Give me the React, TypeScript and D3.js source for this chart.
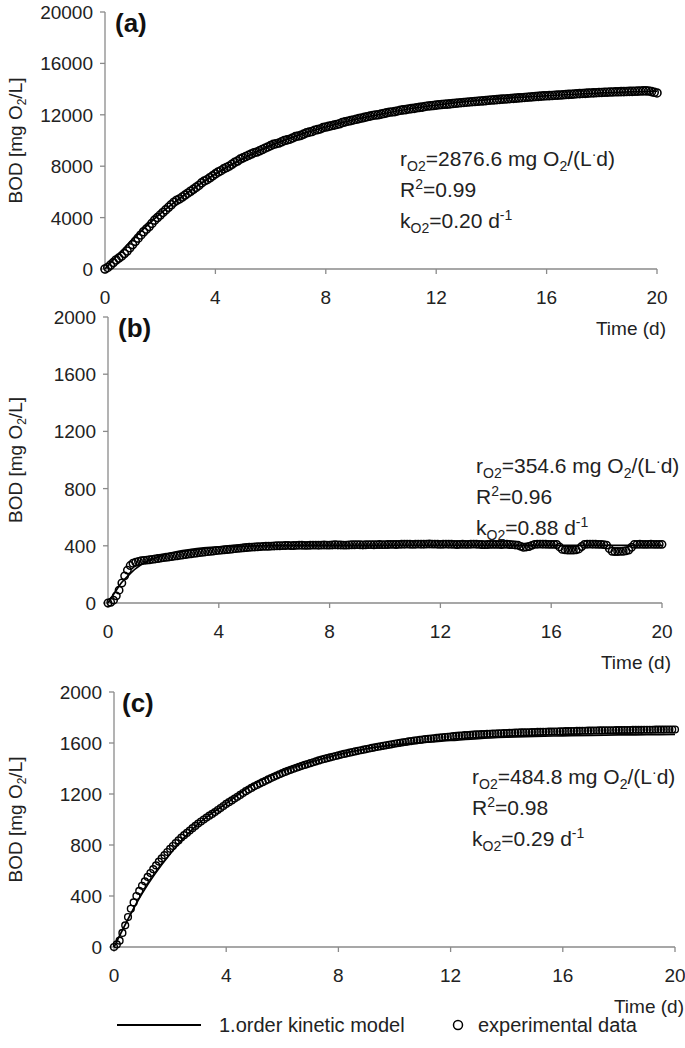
import React from "react";
import * as d3 from "d3";

// readings at t = 0, 0.2, ..., 20 d
const timeGrid: number[] = d3.range(0, 101).map((i) => +(i * 0.2).toFixed(1));
// readings at t = 0.1, 0.3, ..., 19.9 d
const timeGridMid: number[] = d3.range(0, 100).map((i) => +(i * 0.2 + 0.1).toFixed(1));

const bodA: number[] = [
  0, 300, 700, 1000, 1400, 1900, 2400, 2900, 3300, 3800,
  4200, 4600, 5000, 5350, 5600, 5900, 6200, 6500, 6850, 7100,
  7400, 7650, 7900, 8150, 8400, 8650, 8850, 9050, 9200, 9400,
  9600, 9750, 9900, 10050, 10200, 10350, 10500, 10650, 10800, 10900,
  11050, 11150, 11250, 11400, 11500, 11600, 11700, 11800, 11900, 11980,
  12050, 12150, 12220, 12300, 12380, 12450, 12500, 12580, 12650, 12700,
  12750, 12800, 12830, 12880, 12920, 12960, 13000, 13030, 13070, 13100,
  13150, 13180, 13220, 13250, 13280, 13320, 13350, 13380, 13420, 13450,
  13480, 13500, 13530, 13560, 13590, 13620, 13650, 13670, 13700, 13720,
  13740, 13760, 13780, 13790, 13800, 13820, 13830, 13850, 13860, 13800,
  13700,
];
const bodAMid: number[] = [
  120, 500, 850, 1200, 1650, 2150, 2650, 3100, 3550, 4000,
  4400, 4800, 5200, 5450, 5750, 6050, 6350, 6700, 6950, 7250,
  7550, 7800, 8000, 8300, 8550, 8750, 8950, 9100, 9300, 9500,
  9700, 9800, 10000, 10100, 10300, 10400, 10600, 10700, 10850, 11000,
  11100, 11200, 11300, 11450, 11550, 11650, 11750, 11850, 11950, 12000,
  12100, 12200, 12250, 12350, 12400, 12480, 12550, 12600, 12680, 12720,
  12780, 12820, 12850, 12900, 12940, 12980, 13020, 13050, 13080, 13130,
  13160, 13200, 13230, 13270, 13300, 13330, 13370, 13400, 13430, 13470,
  13490, 13520, 13540, 13580, 13600, 13640, 13660, 13690, 13710, 13730,
  13750, 13770, 13790, 13800, 13810, 13820, 13840, 13860, 13850, 13750,
];

const bodB: number[] = [
  0, 20, 90, 190, 262, 285, 295, 300, 305, 311,
  317, 322, 328, 333, 339, 344, 349, 354, 359, 363,
  368, 372, 376, 380, 384, 388, 391, 393, 396, 397,
  399, 400, 402, 401, 403, 404, 403, 405, 404, 406,
  405, 407, 406, 405, 407, 408, 406, 408, 407, 409,
  408, 410, 409, 411, 412, 410, 412, 411, 413, 412,
  410, 412, 411, 409, 411, 410, 412, 410, 408, 410,
  410, 409, 411, 408, 404, 390, 395, 410, 412, 411,
  410, 409, 375, 370, 370, 378, 410, 412, 411, 410,
  405, 362, 360, 362, 370, 410, 411, 410, 411, 410,
  410,
];
const bodBMid: number[] = [
  5, 50, 140, 230, 278, 290, 298, 302, 308, 314,
  320, 325, 330, 336, 342, 347, 352, 357, 361, 366,
  370, 374, 378, 382, 386, 390, 392, 394, 397, 398,
  400, 401, 403, 402, 404, 403, 404, 405, 405, 405,
  406, 406, 405, 406, 407, 407, 407, 408, 408, 408,
  409, 410, 410, 411, 411, 411, 411, 412, 412, 411,
  411, 411, 410, 410, 410, 411, 411, 409, 409, 410,
  410, 410, 409, 406, 396, 392, 403, 411, 411, 410,
  410, 392, 372, 370, 372, 395, 411, 411, 410, 408,
  380, 360, 361, 365, 390, 410, 410, 410, 410, 410,
];

const bodC: number[] = [
  0, 50, 170, 300, 400, 480, 550, 610, 670, 720,
  770, 815, 858, 895, 932, 968, 1000, 1030, 1058, 1090,
  1122, 1150, 1178, 1208, 1235, 1260, 1282, 1303, 1325, 1345,
  1364, 1382, 1398, 1413, 1428, 1442, 1456, 1469, 1481, 1492,
  1503, 1514, 1524, 1534, 1543, 1552, 1561, 1570, 1578, 1586,
  1594, 1601, 1608, 1615, 1621, 1627, 1632, 1637, 1642, 1647,
  1651, 1656, 1659, 1662, 1665, 1668, 1670, 1672, 1674, 1676,
  1678, 1680, 1682, 1683, 1684, 1686, 1687, 1688, 1689, 1690,
  1692, 1693, 1694, 1695, 1696, 1697, 1698, 1699, 1700, 1700,
  1701, 1702, 1702, 1703, 1703, 1704, 1704, 1705, 1705, 1706,
  1706,
];
const bodCMid: number[] = [
  20, 110, 235, 350, 440, 515, 580, 640, 695, 745,
  792, 836, 877, 913, 950, 984, 1015, 1044, 1074, 1106,
  1136, 1164, 1193, 1222, 1248, 1271, 1293, 1314, 1335, 1355,
  1373, 1390, 1406, 1421, 1435, 1449, 1463, 1475, 1487, 1498,
  1509, 1519, 1529, 1539, 1548, 1557, 1566, 1574, 1582, 1590,
  1598, 1605, 1612, 1618, 1624, 1630, 1635, 1640, 1645, 1649,
  1654, 1658, 1661, 1664, 1667, 1669, 1671, 1673, 1675, 1677,
  1679, 1681, 1683, 1684, 1685, 1687, 1688, 1689, 1690, 1691,
  1693, 1694, 1695, 1696, 1697, 1698, 1699, 1700, 1700, 1701,
  1702, 1702, 1703, 1703, 1704, 1704, 1705, 1705, 1706, 1706,
];

// model curves
const modelTA: number[] = [0, 1, 2, 3, 4, 5, 6, 7, 8, 9, 10, 11, 12, 13, 14, 15, 16, 17, 18, 19, 20];
const modelA: number[] = [0, 2300, 4300, 5950, 7400, 8600, 9600, 10400, 11050, 11600, 12050, 12450, 12750, 13000, 13200, 13350, 13480, 13600, 13700, 13780, 13850];

const modelTB: number[] = [0, 0.25, 0.5, 0.75, 1, 1.5, 2, 2.5, 3, 4, 5, 6, 8, 12, 16, 20];
const modelB: number[] = [0, 75, 145, 195, 240, 300, 335, 360, 375, 392, 398, 401, 403, 403, 403, 403];

const modelTC: number[] = [0, 1, 2, 3, 4, 5, 6, 7, 8, 9, 10, 11, 12, 13, 14, 15, 16, 17, 18, 19, 20];
const modelC: number[] = [0, 420, 730, 965, 1125, 1280, 1380, 1450, 1510, 1555, 1585, 1605, 1620, 1635, 1645, 1652, 1656, 1660, 1663, 1665, 1667];

const xTicks: number[] = [0, 4, 8, 12, 16, 20];
const yTicksA: number[] = [0, 4000, 8000, 12000, 16000, 20000];
const yTicksBC: number[] = [0, 400, 800, 1200, 1600, 2000];

const annA = { r: "2876.6", R2: "0.99", k: "0.20" };
const annB = { r: "354.6", R2: "0.96", k: "0.88" };
const annC = { r: "484.8", R2: "0.98", k: "0.29" };

const FONT = "Liberation Sans, Arial, sans-serif";

type PanelProps = {
  label: string;
  x0: number; x1: number; yTop: number; yBot: number;
  yMax: number; yTicks: number[];
  data: number[]; dataMid: number[]; mT: number[]; mV: number[];
  ann: { r: string; R2: string; k: string };
  annX: number; annY: number; r: number; sw: number;
  labelX: number;
};

function Panel(p: PanelProps) {
  const x = d3.scaleLinear().domain([0, 20]).range([p.x0, p.x1]);
  const y = d3.scaleLinear().domain([0, p.yMax]).range([p.yBot, p.yTop]);
  const line = d3
    .line<number>()
    .x((_, i) => x(p.mT[i]))
    .y((v) => y(v))
    .curve(d3.curveMonotoneX);
  const axisColor = "#8a8a8a";
  const midY = (p.yTop + p.yBot) / 2;
  const pts: [number, number][] = [
    ...p.data.map((v, i) => [timeGrid[i], v] as [number, number]),
    ...p.dataMid.map((v, i) => [timeGridMid[i], v] as [number, number]),
  ];
  return (
    <g fontFamily={FONT}>
      <line x1={p.x0} x2={p.x0} y1={p.yTop} y2={p.yBot} stroke={axisColor} strokeWidth={1.3} />
      <line x1={p.x0} x2={p.x1} y1={p.yBot} y2={p.yBot} stroke={axisColor} strokeWidth={1.3} />
      {p.yTicks.map((t) => (
        <g key={"y" + t}>
          <line x1={p.x0 - 5} x2={p.x0} y1={y(t)} y2={y(t)} stroke={axisColor} strokeWidth={1.3} />
          <text x={p.x0 - 12} y={y(t) + 7} textAnchor="end" fontSize={19} fill="#222">{t}</text>
        </g>
      ))}
      {xTicks.map((t) => (
        <g key={"x" + t}>
          <line x1={x(t)} x2={x(t)} y1={p.yBot} y2={p.yBot + 5} stroke={axisColor} strokeWidth={1.3} />
          <text x={x(t)} y={p.yBot + 35} textAnchor="middle" fontSize={19} fill="#222">{t}</text>
        </g>
      ))}
      <text x={p.x1 + 9} y={p.yBot + 66} textAnchor="end" fontSize={19} fill="#222">Time (d)</text>
      <text transform={`translate(22,${midY}) rotate(-90)`} textAnchor="middle" fontSize={19} fill="#222">
        BOD [mg O<tspan fontSize={12} dy={4}>2</tspan><tspan dy={-4}>/L]</tspan>
      </text>
      <text x={p.labelX} y={p.yTop + 20} fontSize={26} fontWeight="bold" fill="#111">{p.label}</text>
      {pts.map(([t, v], i) => (
        <circle key={i} cx={x(t)} cy={y(v)} r={p.r} fill="none" stroke="#000" strokeWidth={p.sw} />
      ))}
      <path d={line(p.mV) || ""} fill="none" stroke="#000" strokeWidth={1.7} />
      <g fontSize={21} fill="#222">
        <text x={p.annX} y={p.annY}>
          r<tspan fontSize={14} dy={5}>O2</tspan>
          <tspan dy={-5}>={p.ann.r} mg O</tspan>
          <tspan fontSize={14} dy={5}>2</tspan>
          <tspan dy={-5}>/(L</tspan>
          <tspan fontSize={14} dy={-7}>·</tspan>
          <tspan dy={7}>d)</tspan>
        </text>
        <text x={p.annX} y={p.annY + 31}>
          R<tspan fontSize={14} dy={-8}>2</tspan>
          <tspan dy={8}>={p.ann.R2}</tspan>
        </text>
        <text x={p.annX} y={p.annY + 62}>
          k<tspan fontSize={14} dy={5}>O2</tspan>
          <tspan dy={-5}>={p.ann.k} d</tspan>
          <tspan fontSize={14} dy={-8}>-1</tspan>
        </text>
      </g>
    </g>
  );
}

export default function App() {
  return (
    <svg width={685} height={1048} style={{ position: "absolute", left: 0, top: 0, background: "#fff" }}>
      <rect width={685} height={1048} fill="#fff" />
      <Panel label="(a)" x0={105} x1={657} yTop={12} yBot={269} yMax={20000} yTicks={yTicksA}
        data={bodA} dataMid={bodAMid} mT={modelTA} mV={modelA} ann={annA} annX={400} annY={166} r={4} sw={1.6} labelX={115} />
      <Panel label="(b)" x0={108} x1={662} yTop={317} yBot={603} yMax={2000} yTicks={yTicksBC}
        data={bodB} dataMid={bodBMid} mT={modelTB} mV={modelB} ann={annB} annX={476} annY={473} r={3.7} sw={1.5} labelX={118} />
      <Panel label="(c)" x0={114} x1={675} yTop={692} yBot={947} yMax={2000} yTicks={yTicksBC}
        data={bodC} dataMid={bodCMid} mT={modelTC} mV={modelC} ann={annC} annX={472} annY={784} r={3.4} sw={1.4} labelX={122} />
      <g fontFamily={FONT} fontSize={20} fill="#222">
        <line x1={117} x2={201} y1={1025} y2={1025} stroke="#000" strokeWidth={2} />
        <text x={219} y={1032}>1.order kinetic model</text>
        <circle cx={458} cy={1025} r={4.5} fill="none" stroke="#000" strokeWidth={1.5} />
        <text x={478} y={1032}>experimental data</text>
      </g>
    </svg>
  );
}
